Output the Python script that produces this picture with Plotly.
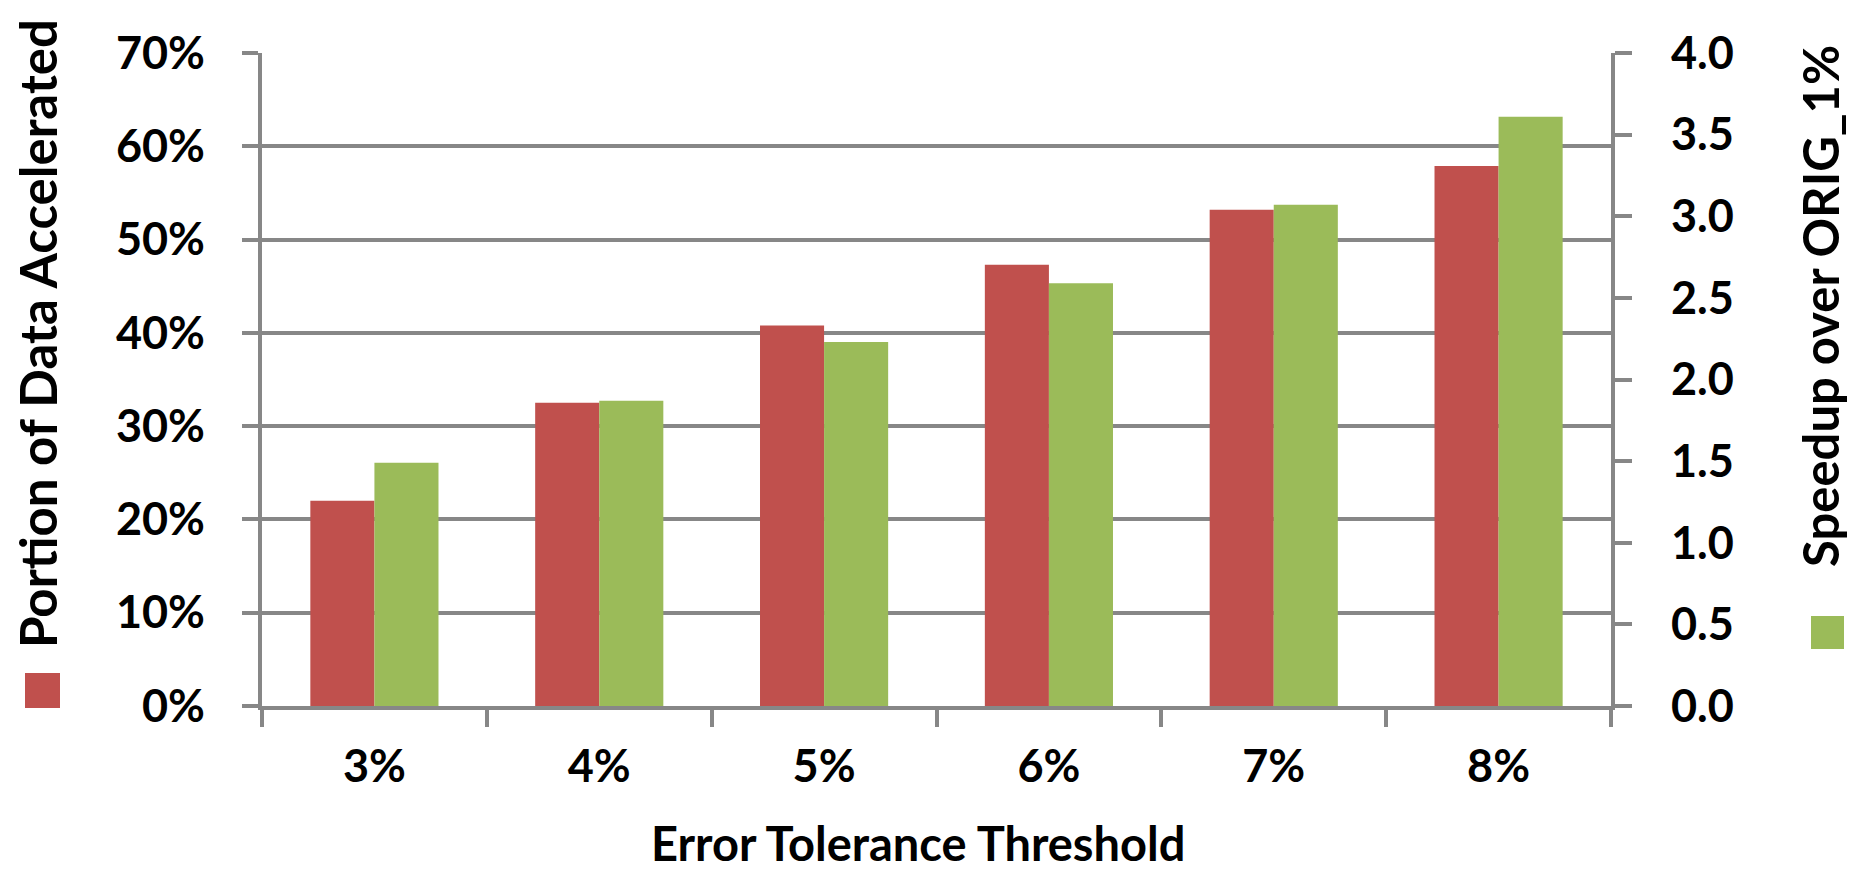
import plotly.graph_objects as go

# ---- data ----
categories = ["3%", "4%", "5%", "6%", "7%", "8%"]
portion_accelerated = [0.220, 0.325, 0.408, 0.473, 0.532, 0.579]   # left axis
speedup = [1.49, 1.87, 2.23, 2.59, 3.07, 3.61]                      # right axis

left_title = "Portion of Data Accelerated"
right_title = "Speedup over ORIG_1%"
x_title = "Error Tolerance Threshold"

RED = "#C0504D"
GREEN = "#9BBB59"
GRID = "#878787"
FONT = "Lato"

W, H = 1857, 873
L, R, T, B = 254, 1603, 45, 698   # plot area in pixels


def px(xp):
    return (xp - L) / (R - L)


def py(yp):
    return (B - yp) / (B - T)


fig = go.Figure()
fig.add_trace(go.Bar(x=categories, y=portion_accelerated, name=left_title,
                     marker=dict(color=RED, line=dict(width=0)),
                     offsetgroup="a", yaxis="y"))
fig.add_trace(go.Bar(x=categories, y=speedup, name=right_title,
                     marker=dict(color=GREEN, line=dict(width=0)),
                     offsetgroup="b", yaxis="y2"))

tickfont = dict(family=FONT, size=45, color="black", weight="bold")

fig.update_layout(
    width=W, height=H,
    margin=dict(l=L, r=W - R, t=T, b=H - B, pad=0),
    plot_bgcolor="white", paper_bgcolor="white",
    barmode="group", bargap=0.43, bargroupgap=0,
    showlegend=False,
    xaxis=dict(type="category", showline=True, linecolor=GRID, linewidth=4,
               ticks="outside", tickson="boundaries", ticklen=17,
               tickwidth=4, tickcolor=GRID, tickfont=tickfont,
               ticklabelstandoff=18, showgrid=False, zeroline=False),
    yaxis=dict(range=[0, 0.7], dtick=0.1, tickformat=".0%",
               showline=True, linecolor=GRID, linewidth=4,
               ticks="outside", ticklen=16, tickwidth=3.5, tickcolor=GRID,
               showgrid=True, gridcolor=GRID, gridwidth=3.5,
               tickfont=tickfont, ticklabelstandoff=28, zeroline=False),
    yaxis2=dict(range=[0, 4], dtick=0.5, tickformat=".1f",
                overlaying="y", side="right",
                showline=True, linecolor=GRID, linewidth=4,
                ticks="outside", ticklen=17, tickwidth=3.5, tickcolor=GRID,
                showgrid=False, tickfont=tickfont, ticklabelstandoff=30,
                zeroline=False),
)

fig.add_annotation(text=left_title, textangle=-90, xref="paper", yref="paper",
                   x=px(29), y=py(326), xanchor="center", yanchor="middle",
                   showarrow=False,
                   font=dict(family=FONT, size=51, color="black", weight="bold"))
fig.add_annotation(text=right_title, textangle=-90, xref="paper", yref="paper",
                   x=px(1812), y=py(298), xanchor="center", yanchor="middle",
                   showarrow=False,
                   font=dict(family=FONT, size=49, color="black", weight="bold"))
fig.add_annotation(text=x_title, xref="paper", yref="paper",
                   x=px(910), y=py(835), xanchor="center", yanchor="middle",
                   showarrow=False,
                   font=dict(family=FONT, size=47, color="black", weight="bold"))

# legend keys
fig.add_shape(type="rect", xref="paper", yref="paper",
              x0=px(17), x1=px(52), y0=py(700), y1=py(665),
              fillcolor=RED, line=dict(width=0))
fig.add_shape(type="rect", xref="paper", yref="paper",
              x0=px(1803), x1=px(1836), y0=py(641), y1=py(608),
              fillcolor=GREEN, line=dict(width=0))

fig.write_html("out.html")
